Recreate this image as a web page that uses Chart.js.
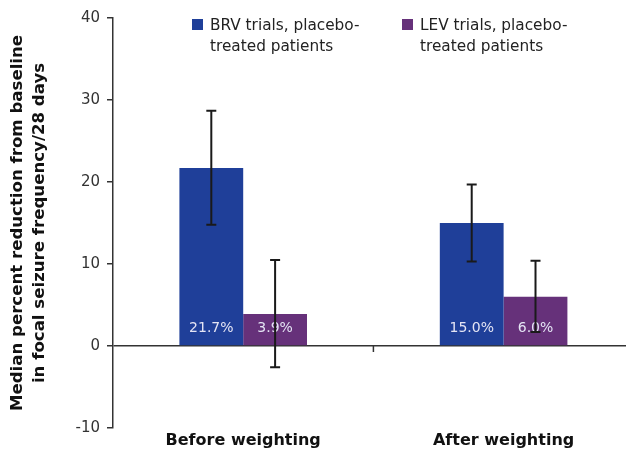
<!DOCTYPE html>
<html>
<head>
<meta charset="utf-8">
<script src="https://cdn.jsdelivr.net/npm/chart.js@4.4.1/dist/chart.umd.min.js"></script>
<style>
  html, body { margin: 0; padding: 0; background: #fff; }
  canvas { display: block; }
</style>
</head>
<body>
<canvas id="c" width="626" height="451"></canvas>
<script>
// ---- data ----
const categories = ['Before weighting', 'After weighting'];
const seriesNames = [['BRV trials, placebo-', 'treated patients'], ['LEV trials, placebo-', 'treated patients']];
const brvValues = [21.7, 15.0];
const levValues = [3.9, 6.0];
const brvErrLow = [14.8, 10.3];
const brvErrHigh = [28.7, 19.7];
const levErrLow = [-2.6, 1.7];
const levErrHigh = [10.5, 10.4];
const yTicks = [-10, 0, 10, 20, 30, 40];
const yTitle = ['Median percent reduction from baseline', 'in focal seizure frequency/28 days'];

const colors = ['#1f3f99', '#66317a'];
const FONT = '"DejaVu Sans", "Open Sans", sans-serif';

const toPoints = vals => vals.map((v, i) => ({ x: i, y: v }));

const errorData = [
  { low: brvErrLow, high: brvErrHigh },
  { low: levErrLow, high: levErrHigh }
];

const decorPlugin = {
  id: 'decor',
  afterDatasetsDraw(chart) {
    const ctx = chart.ctx;
    const ys = chart.scales.y;
    const xs = chart.scales.x;
    const y0 = ys.getPixelForValue(0);
    ctx.save();
    // separator tick between categories
    ctx.strokeStyle = '#333';
    ctx.lineWidth = 1.5;
    ctx.beginPath();
    const sx = xs.getPixelForValue(0.5);
    ctx.moveTo(sx, y0);
    ctx.lineTo(sx, y0 + 6);
    ctx.stroke();
    // value labels
    ctx.font = '14px ' + FONT;
    ctx.fillStyle = '#e4e4f4';
    ctx.textAlign = 'center';
    ctx.textBaseline = 'middle';
    chart.data.datasets.forEach((ds, di) => {
      const meta = chart.getDatasetMeta(di);
      meta.data.forEach((bar, i) => {
        ctx.fillText(ds.data[i].y.toFixed(1) + '%', bar.x, y0 - 18);
      });
    });
    // error bars
    ctx.strokeStyle = '#1a1a1a';
    ctx.lineWidth = 2;
    chart.data.datasets.forEach((ds, di) => {
      const meta = chart.getDatasetMeta(di);
      meta.data.forEach((bar, i) => {
        const yl = ys.getPixelForValue(errorData[di].low[i]);
        const yh = ys.getPixelForValue(errorData[di].high[i]);
        ctx.beginPath();
        ctx.moveTo(bar.x, yl); ctx.lineTo(bar.x, yh);
        ctx.moveTo(bar.x - 5, yl); ctx.lineTo(bar.x + 5, yl);
        ctx.moveTo(bar.x - 5, yh); ctx.lineTo(bar.x + 5, yh);
        ctx.stroke();
      });
    });
    // legend
    const legendX = [192, 402];
    ctx.font = '15.3px ' + FONT;
    ctx.textAlign = 'left';
    ctx.textBaseline = 'alphabetic';
    seriesNames.forEach((lines, i) => {
      ctx.fillStyle = colors[i];
      ctx.fillRect(legendX[i], 19, 11, 11);
      ctx.fillStyle = '#222';
      lines.forEach((t, li) => ctx.fillText(t, legendX[i] + 18, 30 + li * 21));
    });
    ctx.restore();
  }
};

new Chart(document.getElementById('c'), {
  type: 'bar',
  data: {
    datasets: [
      { label: seriesNames[0].join(' '), data: toPoints(brvValues), backgroundColor: colors[0] },
      { label: seriesNames[1].join(' '), data: toPoints(levValues), backgroundColor: colors[1] }
    ]
  },
  options: {
    responsive: false,
    devicePixelRatio: 1,
    animation: false,
    layout: { padding: { top: 18, right: 0, left: 0, bottom: 0 } },
    categoryPercentage: 0.49,
    barPercentage: 1.0,
    plugins: { legend: { display: false }, tooltip: { enabled: false } },
    scales: {
      x: {
        type: 'linear',
        min: -0.5,
        max: 1.47,
        offset: false,
        grid: { display: false, drawTicks: false },
        border: { display: false },
        afterBuildTicks(scale) { scale.ticks = categories.map((c, i) => ({ value: i })); },
        afterFit(scale) { scale.height = 23; },
        ticks: {
          callback: (v) => categories[v] !== undefined ? categories[v] : '',
          font: { family: FONT, size: 16, weight: 'bold' },
          color: '#111',
          padding: 3,
          maxRotation: 0,
          autoSkip: false
        }
      },
      y: {
        min: -10,
        max: 40,
        afterBuildTicks(scale) { scale.ticks = yTicks.map(v => ({ value: v })); },
        afterFit(scale) { scale.width = 113; },
        border: { display: true, color: '#333', width: 1.5 },
        grid: {
          drawOnChartArea: true,
          color: (c) => (c.tick && c.tick.value === 0) ? '#333' : 'rgba(0,0,0,0)',
          lineWidth: 1.5,
          tickColor: '#333',
          tickLength: 6,
          drawTicks: true
        },
        ticks: {
          font: { family: FONT, size: 15 },
          color: '#333',
          padding: 7
        },
        title: {
          display: true,
          text: yTitle,
          font: { family: FONT, size: 16.6, weight: 'bold', lineHeight: 1.3 },
          color: '#111',
          padding: { top: 7, bottom: 0 }
        }
      }
    }
  },
  plugins: [decorPlugin]
});
</script>
</body>
</html>
